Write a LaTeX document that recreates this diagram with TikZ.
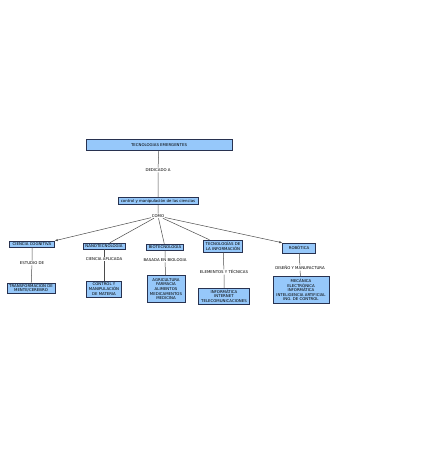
\documentclass[tikz,border=0pt]{standalone}
\usepackage{fontspec}
\setmainfont{DejaVu Sans}
\usepackage{xcolor}
\usetikzlibrary{arrows.meta,positioning}

\definecolor{cmapblue}{RGB}{150,200,250}
\definecolor{cmapline}{RGB}{40,50,80}
\newcommand{\cmapfont}{\fontsize{3.9}{4.6}\selectfont}

\begin{document}
\begin{tikzpicture}[x=1pt,y=-1pt,>={Latex[length=3pt,width=2.4pt]},
  concept/.style={draw=cmapline, fill=cmapblue, line width=0.5pt, inner sep=0.3pt,
    align=center, font=\cmapfont},
  linkword/.style={fill=white, inner sep=0.6pt, align=center, font=\cmapfont},
  link/.style={draw=gray!60!black, line width=0.5pt}]

\useasboundingbox (0,0) rectangle (428,450);

% Root and first link
\node[concept, minimum width=146pt, minimum height=11pt] (root) at (159,145) {TECNOLOGIAS EMERGENTES};
\node[linkword] (dedicado) at (158,170) {DEDICADO A};
\node[concept, minimum width=80pt, minimum height=7pt] (control) at (158,201) {control y manipulación de las ciencias};
\node[linkword] (como) at (158,216) {COMO};

\draw[link] (root) -- (dedicado) -- (control) -- (como);

% Second level
\node[concept, minimum width=45pt, minimum height=6pt] (cognitiva) at (32,244) {CIENCIA COGNITIVA};
\node[concept, minimum width=42pt, minimum height=6pt] (nano) at (104,246) {NANOTECNOLOGÍA};
\node[concept, minimum width=37pt, minimum height=6pt] (bio) at (165,247) {BIOTECNOLOGÍA};
\node[concept, minimum width=39pt, minimum height=12pt] (tecinfo) at (223,246) {TECNOLOGÍAS DE\\LA INFORMACIÓN};
\node[concept, minimum width=33pt, minimum height=10pt] (robotica) at (299,248) {ROBÓTICA};

\draw[link,->] (como) -- (cognitiva.north east);
\draw[link] (como) -- (nano);
\draw[link] (como) -- (bio);
\draw[link] (como) -- (tecinfo);
\draw[link,->] (como) -- (robotica.north west);

% Link words
\node[linkword] (estudio) at (32,263) {ESTUDIO DE};
\node[linkword] (aplicada) at (104,259) {CIENCIA APLICADA};
\node[linkword] (basada) at (165,260) {BASADA EN BIOLOGIA};
\node[linkword] (elementos) at (224,272) {ELEMENTOS Y TÉCNICAS};
\node[linkword] (diseno) at (300,268) {DISEÑO Y MANUFACTURA};

% Third level
\node[concept, minimum width=48pt, minimum height=10pt] (transf) at (31,288) {TRANSFORMACIÓN DE\\MENTE/CEREBRO};
\node[concept, minimum width=35pt, minimum height=16pt] (materia) at (104,289) {CONTROL Y\\MANIPULACIÓN\\DE MATERIA};
\node[concept, minimum width=38pt, minimum height=27pt] (agricultura) at (166,289) {AGRICULTURA\\FARMACIA\\ALIMENTOS\\MEDICAMENTOS\\MEDICINA};
\node[concept, minimum width=51pt, minimum height=16pt] (informatica) at (224,296) {INFORMÁTICA\\INTERNET\\TELECOMUNICACIONES};
\node[concept, minimum width=56pt, minimum height=27pt] (mecanica) at (301,290) {MECÁNICA\\ELECTRÓNICA\\INFORMÁTICA\\INTELIGENCIA ARTIFICIAL\\ING. DE CONTROL};

\draw[link] (cognitiva) -- (estudio) -- (transf);
\draw[link] (nano) -- (aplicada) -- (materia);
\draw[link] (bio) -- (basada) -- (agricultura);
\draw[link] (tecinfo) -- (elementos) -- (informatica);
\draw[link] (robotica) -- (diseno) -- (mecanica);

\end{tikzpicture}
\end{document}
